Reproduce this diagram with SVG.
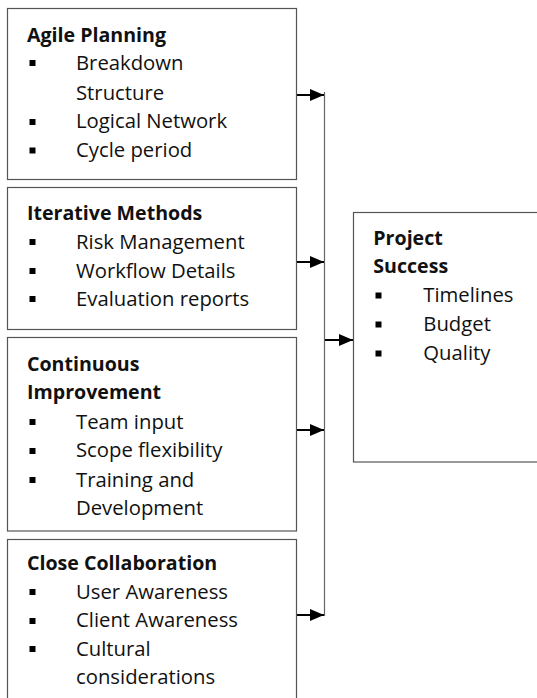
<svg xmlns="http://www.w3.org/2000/svg" width="537" height="698" viewBox="0 0 537 698">
<defs>
<style>
.box{fill:#fff;stroke:#555;stroke-width:1.2}
.t{font-family:"Open Sans","Liberation Sans",sans-serif;font-size:20.3px;fill:#111}
.b{font-weight:bold;font-size:19.6px}
.sq{fill:#000}
.stem{stroke:#000;stroke-width:2;fill:none}
.bus{stroke:#666;stroke-width:1.2;fill:none}
</style>
<marker id="ah" markerWidth="14" markerHeight="12" refX="14" refY="6" orient="auto" markerUnits="userSpaceOnUse">
<path d="M0,0 L14,6 L0,12 Z" fill="#000"/>
</marker>
</defs>
<rect width="537" height="698" fill="#fff"/>

<g id="connectors">
<line class="bus" x1="324.5" y1="92" x2="324.5" y2="616"/>
<line class="stem" x1="297" y1="95" x2="324" y2="95" marker-end="url(#ah)"/>
<line class="stem" x1="297" y1="262" x2="324" y2="262" marker-end="url(#ah)"/>
<line class="stem" x1="297" y1="430" x2="324" y2="430" marker-end="url(#ah)"/>
<line class="stem" x1="297" y1="615" x2="324" y2="615" marker-end="url(#ah)"/>
<line class="stem" x1="325" y1="340" x2="353" y2="340" marker-end="url(#ah)"/>
</g>

<g id="agile-planning">
<rect class="box" x="7.5" y="8.5" width="289" height="171"/>
<text class="t b" x="27" y="41.7">Agile Planning</text>
<rect class="sq" x="29.5" y="60" width="6" height="6"/>
<text class="t" x="76" y="69.5">Breakdown</text>
<text class="t" x="76" y="99.5">Structure</text>
<rect class="sq" x="29.5" y="119" width="6" height="6"/>
<text class="t" x="76" y="128.3">Logical Network</text>
<rect class="sq" x="29.5" y="147.5" width="6" height="6"/>
<text class="t" x="76" y="157">Cycle period</text>
</g>

<g id="iterative-methods">
<rect class="box" x="7.5" y="187.5" width="289" height="142"/>
<text class="t b" x="27" y="220">Iterative Methods</text>
<rect class="sq" x="29.5" y="239" width="6" height="6"/>
<text class="t" x="76" y="248.5">Risk Management</text>
<rect class="sq" x="29.5" y="268" width="6" height="6"/>
<text class="t" x="76" y="277.5">Workflow Details</text>
<rect class="sq" x="29.5" y="296" width="6" height="6"/>
<text class="t" x="76" y="305.5">Evaluation reports</text>
</g>

<g id="continuous-improvement">
<rect class="box" x="7.5" y="337.5" width="289" height="193.5"/>
<text class="t b" x="27" y="370.7">Continuous</text>
<text class="t b" x="27" y="399.3">Improvement</text>
<rect class="sq" x="29.5" y="419" width="6" height="6"/>
<text class="t" x="76" y="428.5">Team input</text>
<rect class="sq" x="29.5" y="448" width="6" height="6"/>
<text class="t" x="76" y="457.3">Scope flexibility</text>
<rect class="sq" x="29.5" y="477" width="6" height="6"/>
<text class="t" x="76" y="486.5">Training and</text>
<text class="t" x="76" y="515">Development</text>
</g>

<g id="close-collaboration">
<rect class="box" x="7.5" y="539.5" width="289" height="170"/>
<text class="t b" x="27" y="570">Close Collaboration</text>
<rect class="sq" x="29.5" y="589" width="6" height="6"/>
<text class="t" x="76" y="598.5">User Awareness</text>
<rect class="sq" x="29.5" y="618" width="6" height="6"/>
<text class="t" x="76" y="627.3">Client Awareness</text>
<rect class="sq" x="29.5" y="646" width="6" height="6"/>
<text class="t" x="76" y="655.5">Cultural</text>
<text class="t" x="76" y="683.5">considerations</text>
</g>

<g id="project-success">
<rect class="box" x="353.5" y="212.5" width="200" height="249.5"/>
<text class="t b" x="373.3" y="244.5">Project</text>
<text class="t b" x="373.3" y="273">Success</text>
<rect class="sq" x="375.5" y="292.5" width="6" height="6"/>
<text class="t" x="423.3" y="302">Timelines</text>
<rect class="sq" x="375.5" y="321.5" width="6" height="6"/>
<text class="t" x="423.3" y="331">Budget</text>
<rect class="sq" x="375.5" y="350.5" width="6" height="6"/>
<text class="t" x="423.3" y="360">Quality</text>
</g>
</svg>
